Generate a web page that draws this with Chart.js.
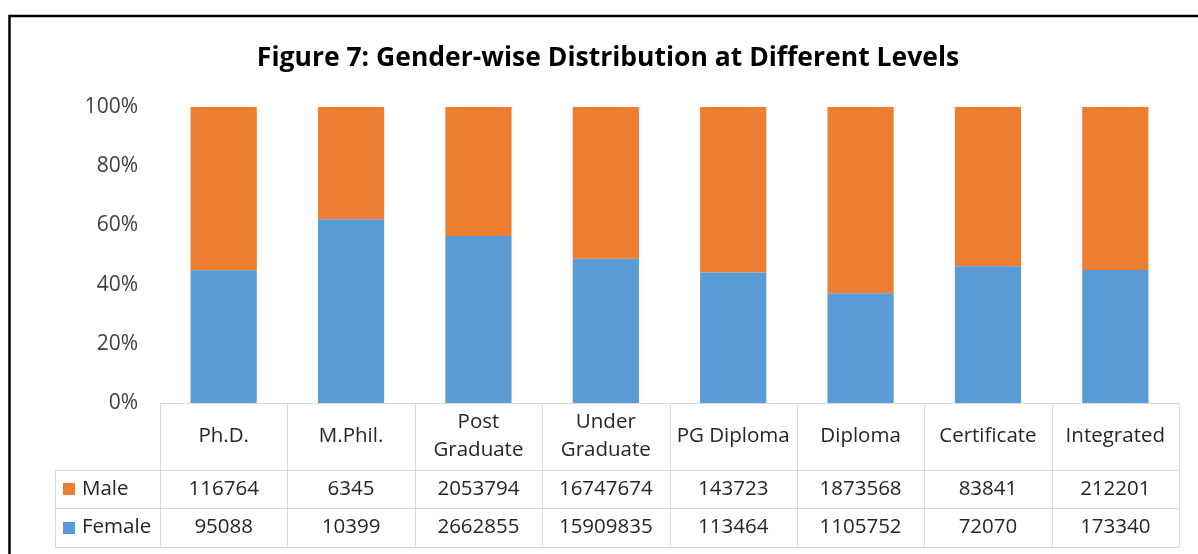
<!DOCTYPE html>
<html>
<head>
<meta charset="utf-8">
<script src="https://cdn.jsdelivr.net/npm/chart.js@4.4.1/dist/chart.umd.min.js"></script>
<style>
  html, body { margin: 0; padding: 0; background: #ffffff; }
  #wrap { width: 1198px; height: 554px; position: relative; }
</style>
</head>
<body>
<div id="wrap"><canvas id="c" width="1198" height="554"></canvas></div>
<script>
const titleText = 'Figure 7: Gender-wise Distribution at Different Levels';
const categories = ['Ph.D.', 'M.Phil.', ['Post', 'Graduate'], ['Under', 'Graduate'], 'PG Diploma', 'Diploma', 'Certificate', 'Integrated'];
const maleValues = [116764, 6345, 2053794, 16747674, 143723, 1873568, 83841, 212201];
const femaleValues = [95088, 10399, 2662855, 15909835, 113464, 1105752, 72070, 173340];
const yTicks = [0, 20, 40, 60, 80, 100];

const femalePct = femaleValues.map((f, i) => f / (f + maleValues[i]) * 100);
const malePct = maleValues.map((m, i) => m / (m + femaleValues[i]) * 100);

const ORANGE = '#ED7D31';
const BLUE = '#5B9BD5';
const GRID = '#d9d9d9';
const TXT = '#262626';
const FONT = '"Open Sans", "Noto Sans", sans-serif';

const framePlugin = {
  id: 'frame',
  beforeDraw(chart) {
    const ctx = chart.ctx;
    ctx.save();
    ctx.fillStyle = '#ffffff';
    ctx.fillRect(0, 0, chart.width, chart.height);
    ctx.strokeStyle = '#000000';
    ctx.lineWidth = 2.5;
    ctx.beginPath();
    ctx.moveTo(9.5, chart.height + 5);
    ctx.lineTo(9.5, 16);
    ctx.lineTo(chart.width + 5, 16);
    ctx.stroke();
    ctx.restore();
  }
};

const tablePlugin = {
  id: 'dataTable',
  afterDraw(chart) {
    const ctx = chart.ctx;
    const xs = chart.scales.x;
    const n = categories.length;
    const area = chart.chartArea;
    const cw = (area.right - area.left) / n;
    const top = area.bottom;
    const headerBottom = top + 67;
    const row1Bottom = headerBottom + 38;
    const row2Bottom = row1Bottom + 39;
    const legendLeft = 55;
    ctx.save();
    ctx.strokeStyle = GRID;
    ctx.lineWidth = 1;
    ctx.beginPath();
    ctx.moveTo(area.left, top + 0.5); ctx.lineTo(area.right, top + 0.5);
    [headerBottom, row1Bottom, row2Bottom].forEach(y => {
      ctx.moveTo(legendLeft, y + 0.5); ctx.lineTo(area.right, y + 0.5);
    });
    ctx.moveTo(legendLeft + 0.5, headerBottom); ctx.lineTo(legendLeft + 0.5, row2Bottom);
    for (let i = 0; i <= n; i++) {
      const x = Math.round(xs.getPixelForValue(0) - cw / 2 + i * cw) + 0.5;
      ctx.moveTo(x, top); ctx.lineTo(x, row2Bottom);
    }
    ctx.stroke();

    ctx.fillStyle = TXT;
    ctx.textAlign = 'center';
    ctx.textBaseline = 'middle';
    ctx.font = '20.5px ' + FONT;
    for (let i = 0; i < n; i++) {
      const cx = xs.getPixelForValue(i);
      const lab = categories[i];
      const hc = (top + headerBottom) / 2;
      if (Array.isArray(lab)) {
        const lh = 28;
        lab.forEach((s, k) => {
          ctx.fillText(s, cx, hc + (k - (lab.length - 1) / 2) * lh);
        });
      } else {
        ctx.fillText(lab, cx, hc);
      }
      ctx.fillText(String(maleValues[i]), cx, (headerBottom + row1Bottom) / 2);
      ctx.fillText(String(femaleValues[i]), cx, (row1Bottom + row2Bottom) / 2);
    }
    const rows = [
      { label: 'Male', color: ORANGE, y: (headerBottom + row1Bottom) / 2 },
      { label: 'Female', color: BLUE, y: (row1Bottom + row2Bottom) / 2 }
    ];
    ctx.textAlign = 'left';
    rows.forEach(r => {
      ctx.fillStyle = r.color;
      ctx.fillRect(63, Math.round(r.y - 6), 12, 12);
      ctx.fillStyle = TXT;
      ctx.fillText(r.label, 82, r.y);
    });
    ctx.restore();
  }
};

new Chart(document.getElementById('c'), {
  type: 'bar',
  data: {
    labels: categories,
    datasets: [
      { label: 'Female', data: femalePct, backgroundColor: BLUE, borderWidth: 0 },
      { label: 'Male', data: malePct, backgroundColor: ORANGE, borderWidth: 0 }
    ]
  },
  options: {
    responsive: false,
    animation: false,
    devicePixelRatio: 1,
    layout: { padding: { left: 37, right: 19, top: 0, bottom: 151 } },
    datasets: { bar: { categoryPercentage: 1.0, barPercentage: 0.52 } },
    plugins: {
      legend: { display: false },
      tooltip: { enabled: false },
      title: {
        display: true,
        text: titleText,
        color: '#000000',
        font: { family: FONT, size: 26.5, weight: 'bold' },
        padding: { top: 42.5, bottom: 32.7 },
        align: 'center'
      }
    },
    scales: {
      x: {
        stacked: true,
        display: false
      },
      y: {
        stacked: true,
        min: 0,
        max: 100,
        afterBuildTicks(scale) { scale.ticks = yTicks.map(v => ({ value: v })); },
        afterFit(scale) { scale.width = 123; },
        grid: { display: false, drawTicks: false },
        border: { display: false },
        ticks: {
          padding: 22,
          color: '#404040',
          font: { family: FONT, size: 21 },
          callback: v => v + '%'
        }
      }
    }
  },
  plugins: [framePlugin, tablePlugin]
});
</script>
</body>
</html>
